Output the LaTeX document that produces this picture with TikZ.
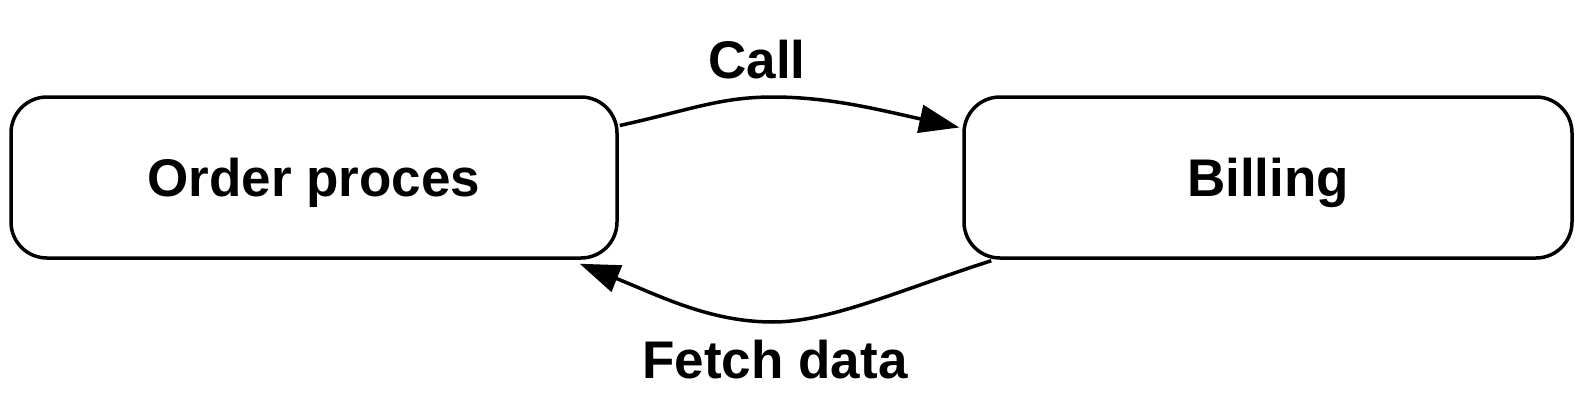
\documentclass[tikz,border=0pt]{standalone}
\usepackage{fontspec}
\setmainfont{Liberation Sans}
\usetikzlibrary{arrows.meta}
\begin{document}
\begin{tikzpicture}[x=1pt,y=-1pt,
  box/.style={draw, line width=3.5pt, rounded corners=36pt, minimum height=161pt,
    inner sep=0pt, font=\fontsize{53}{60}\selectfont\bfseries, text height=38pt, text depth=0pt},
  lbl/.style={font=\fontsize{53}{60}\selectfont\bfseries, anchor=base, inner sep=0pt},
  conn/.style={line width=3.5pt, -{Triangle[length=40pt,width=28pt]}}]
\useasboundingbox (0,0) rectangle (1579,412);
\node[box, minimum width=606pt] (a) at (314,177.5) {Order proces};
\node[box, minimum width=608pt] (b) at (1268,177.5) {Billing};
\node[lbl] (call) at (757,78) {Call};
\node[lbl] (fetch) at (775,378) {Fetch data};
\draw[conn] ([shift={(1,-52)}]a.east) .. controls (690,110) and (720,97) .. (773,97)
  .. controls (830,97) and (880,110) .. ([shift={(-3,-50)}]b.west);
\draw[conn] ([shift={(29,1)}]b.south west) .. controls (900,290) and (830,322) .. (773,322)
  .. controls (710,322) and (660,296) .. ([shift={(-39,4)}]a.south east);
\end{tikzpicture}
\end{document}
